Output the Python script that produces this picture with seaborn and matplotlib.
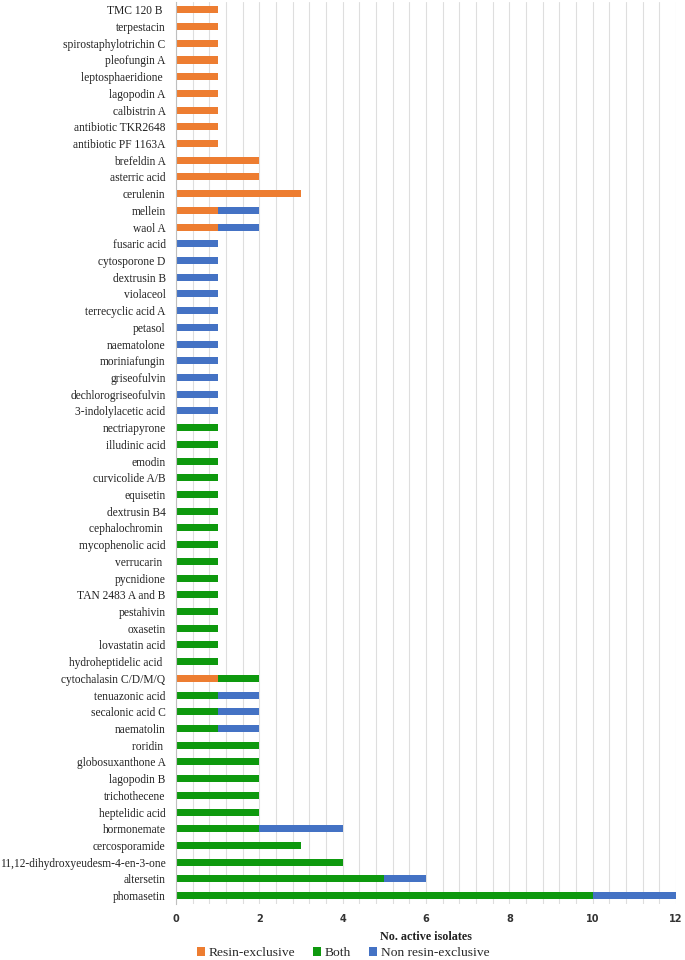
import matplotlib
matplotlib.use("Agg")
import matplotlib.pyplot as plt
import numpy as np
import pandas as pd
import seaborn as sns
from matplotlib.patches import Patch

compounds = [
    "TMC 120 B ", "terpestacin", "spirostaphylotrichin C", "pleofungin A",
    "leptosphaeridione ", "lagopodin A", "calbistrin A", "antibiotic TKR2648",
    "antibiotic PF 1163A", "brefeldin A", "asterric acid", "cerulenin",
    "mellein", "waol A", "fusaric acid", "cytosporone D", "dextrusin B",
    "violaceol", "terrecyclic acid A", "petasol", "naematolone",
    "moriniafungin", "griseofulvin", "dechlorogriseofulvin",
    "3-indolylacetic acid", "nectriapyrone", "illudinic acid", "emodin",
    "curvicolide A/B", "equisetin", "dextrusin B4", "cephalochromin ",
    "mycophenolic acid", "verrucarin ", "pycnidione", "TAN 2483 A and B",
    "pestahivin", "oxasetin", "lovastatin acid", "hydroheptidelic acid ",
    "cytochalasin C/D/M/Q", "tenuazonic acid", "secalonic acid C",
    "naematolin", "roridin ", "globosuxanthone A", "lagopodin B",
    "trichothecene", "heptelidic acid", "hormonemate", "cercosporamide",
    "11,12-dihydroxyeudesm-4-en-3-one", "altersetin", "phomasetin",
]
resin_exclusive = [1, 1, 1, 1, 1, 1, 1, 1, 1, 2, 2, 3, 1, 1,
                   0, 0, 0, 0, 0, 0, 0, 0, 0, 0, 0,
                   0, 0, 0, 0, 0, 0, 0, 0, 0, 0, 0, 0, 0, 0, 0,
                   1, 0, 0, 0, 0, 0, 0, 0, 0, 0, 0, 0, 0, 0]
both = [0, 0, 0, 0, 0, 0, 0, 0, 0, 0, 0, 0, 0, 0,
        0, 0, 0, 0, 0, 0, 0, 0, 0, 0, 0,
        1, 1, 1, 1, 1, 1, 1, 1, 1, 1, 1, 1, 1, 1, 1,
        1, 1, 1, 1, 2, 2, 2, 2, 2, 2, 3, 4, 5, 10]
non_resin_exclusive = [0, 0, 0, 0, 0, 0, 0, 0, 0, 0, 0, 0, 1, 1,
                       1, 1, 1, 1, 1, 1, 1, 1, 1, 1, 1,
                       0, 0, 0, 0, 0, 0, 0, 0, 0, 0, 0, 0, 0, 0, 0,
                       0, 1, 1, 1, 0, 0, 0, 0, 0, 2, 0, 0, 1, 2]
series_names = ["Resin-exclusive", "Both", "Non resin-exclusive"]
colors = ["#ED7D31", "#0E990E", "#4472C4"]
x_ticks = [0, 2, 4, 6, 8, 10, 12]

df = pd.DataFrame({"compound": compounds, "R": resin_exclusive,
                   "B": both, "N": non_resin_exclusive})
df["RB"] = df["R"] + df["B"]
df["RBN"] = df["RB"] + df["N"]

sns.set_theme(style="white")
plt.rcParams["font.family"] = ["Liberation Serif", "DejaVu Serif"]

fig = plt.figure(figsize=(6.85, 9.6), dpi=100)
ax = fig.add_axes([176 / 685, 1 - 904 / 960, 500 / 685, (904 - 1.5) / 960])

for col, c in zip(["RBN", "RB", "R"], [colors[2], colors[1], colors[0]]):
    sns.barplot(data=df, x=col, y="compound", orient="h", color=c,
                width=0.42, ax=ax, saturation=1, edgecolor="none")

ax.set_xlim(0, 12)
ax.set_xticks(x_ticks)
ax.set_xticks(np.arange(0, 12.01, 0.4), minor=True)
ax.grid(True, axis="x", which="both", color="#dedede", linewidth=0.8)
ax.set_axisbelow(True)
for s in ["top", "right", "bottom"]:
    ax.spines[s].set_visible(False)
ax.spines["left"].set_color("#bfbfbf")
ax.spines["left"].set_linewidth(0.8)
ax.tick_params(axis="y", length=0, pad=7.5, labelsize=8.3, labelcolor="#222222")
ax.tick_params(axis="x", which="both", length=0, pad=7)
for lab in ax.get_xticklabels():
    lab.set_fontfamily("DejaVu Sans")
    lab.set_fontweight("bold")
    lab.set_fontsize(7)
    lab.set_color("#333333")
ax.set_ylabel("")
ax.set_xlabel("No. active isolates", fontsize=8.7, fontweight="bold",
              labelpad=5, color="#222222")

handles = [Patch(facecolor=c, edgecolor="none") for c in colors]
fig.legend(handles, series_names, loc="center",
           bbox_to_anchor=(343 / 685, 1 - 953 / 960), ncol=3, frameon=False,
           fontsize=9.7, handlelength=0.6, handleheight=0.6,
           handletextpad=0.3, columnspacing=1.3)

fig.savefig("out.png", dpi=100)
